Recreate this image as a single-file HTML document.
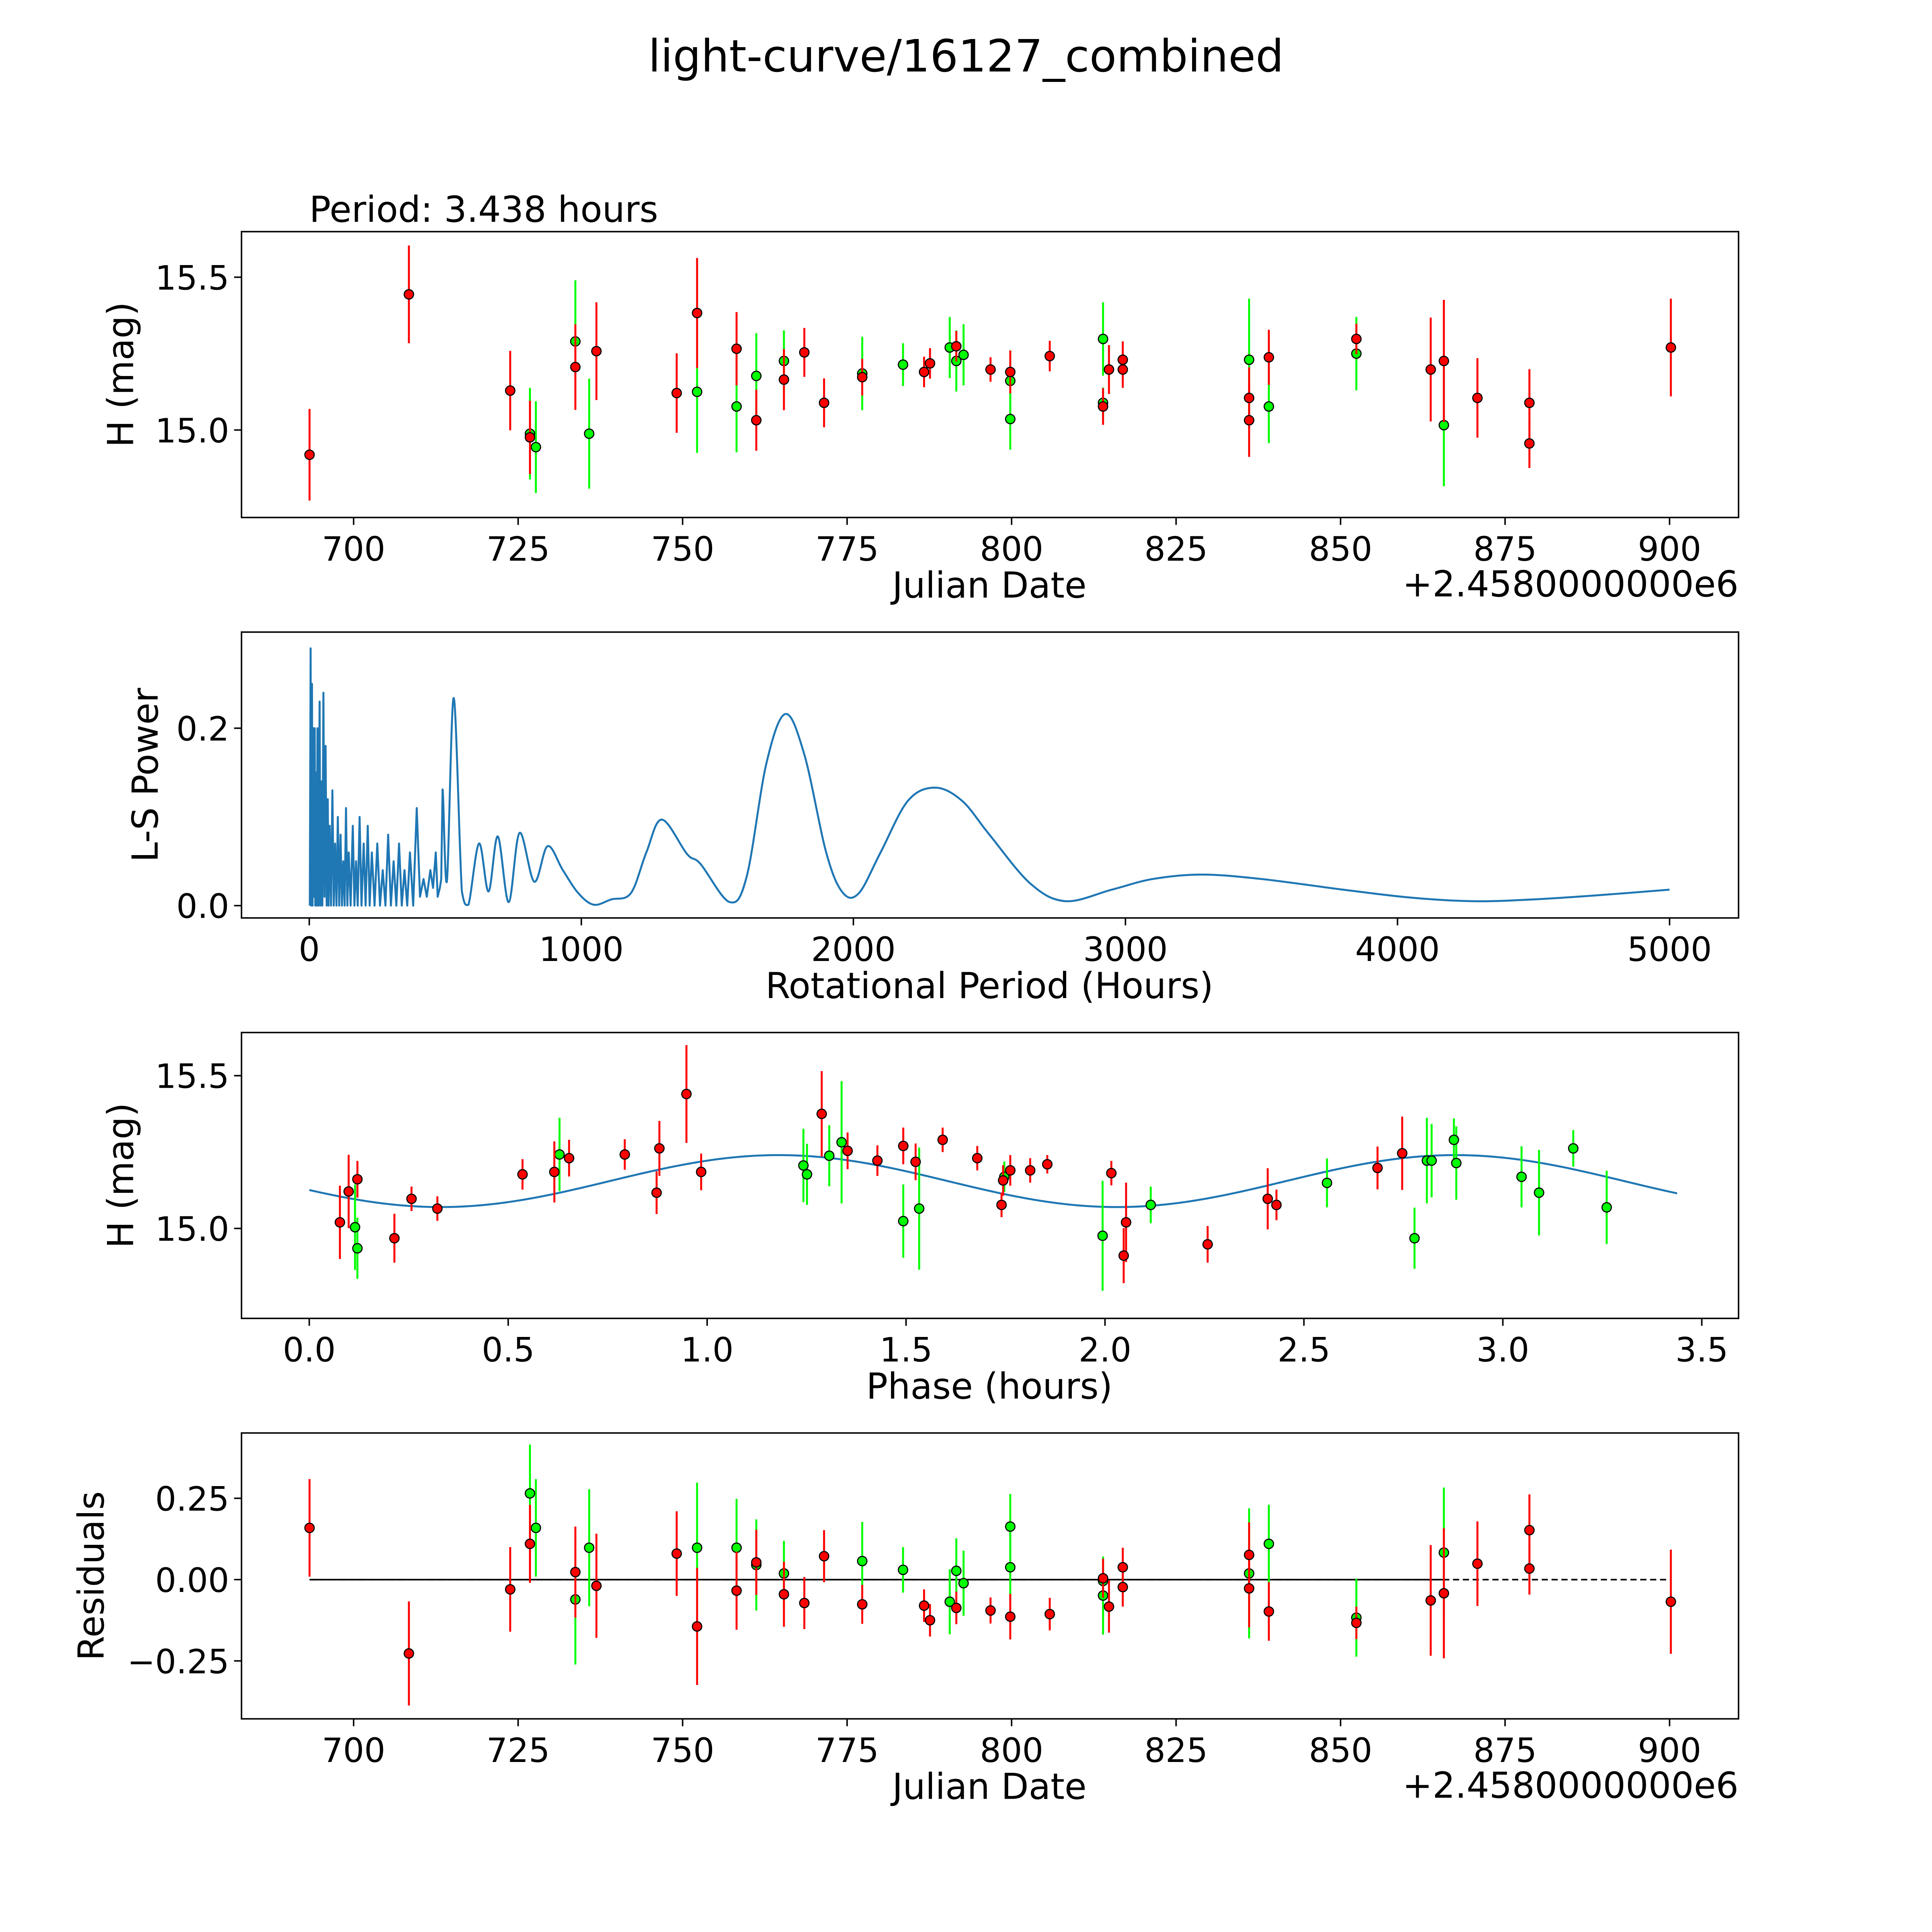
<!DOCTYPE html>
<html><head><meta charset="utf-8"><style>
html,body{margin:0;padding:0;background:#fff;overflow:hidden;width:100vw;height:100vh}
svg{display:block;width:100vw;height:100vh}
text{font-family:"DejaVu Sans","Liberation Sans",sans-serif;fill:#000}
</style></head><body>
<svg id="fig" viewBox="0 0 1568 1568" preserveAspectRatio="none" xmlns="http://www.w3.org/2000/svg">
<rect width="1568" height="1568" fill="#fff"/>
<text x="784" y="58" font-size="36" text-anchor="middle">light-curve/16127_combined</text>
<text x="251" y="180" font-size="29">Period: 3.438 hours</text>
<g id="g1"></g>
<g id="g2"></g>
<g id="g3"></g>
<g id="g4"></g>
</svg>
<script>
// ---- Panel 1 / 4 data (same order) ----
const redDates=[693.3,708.4,723.8,726.8,733.7,736.9,749.1,752.2,758.2,761.2,765.4,768.5,771.5,777.3,786.7,787.6,791.6,796.8,799.8,805.8,813.9,814.8,816.9,816.9,836.1,836.1,839.1,852.4,863.7,865.7,870.8,878.7,878.7,900.2];
const redMags=[14.919,15.444,15.129,14.976,15.206,15.258,15.121,15.383,15.266,15.032,15.165,15.254,15.089,15.173,15.190,15.218,15.274,15.198,15.190,15.242,15.077,15.198,15.230,15.198,15.105,15.032,15.238,15.298,15.198,15.226,15.105,15.089,14.956,15.270];
const redErrs=[0.15,0.16,0.13,0.12,0.14,0.16,0.13,0.18,0.12,0.1,0.1,0.08,0.08,0.06,0.05,0.05,0.05,0.04,0.07,0.05,0.06,0.08,0.06,0.06,0.10,0.12,0.09,0.05,0.17,0.2,0.13,0.11,0.08,0.16];
const redResid=[0.159,-0.227,-0.030,0.110,0.023,-0.019,0.080,-0.144,-0.034,0.053,-0.045,-0.072,0.072,-0.076,-0.080,-0.125,-0.087,-0.095,-0.114,-0.106,0.004,-0.083,0.038,-0.023,0.076,-0.027,-0.098,-0.133,-0.064,-0.042,0.049,0.152,0.034,-0.068];
const greenDates=[726.8,727.7,733.7,735.8,752.2,758.2,761.2,765.4,777.3,783.5,790.6,791.6,792.7,799.8,799.8,813.9,813.9,836.1,839.1,852.4,865.7];
const greenMags=[14.988,14.944,15.290,14.988,15.125,15.077,15.177,15.226,15.185,15.214,15.270,15.226,15.246,15.161,15.036,15.298,15.089,15.230,15.077,15.250,15.016];
const greenErrs=[0.15,0.15,0.2,0.18,0.2,0.15,0.14,0.1,0.12,0.07,0.1,0.1,0.1,0.1,0.1,0.12,0.05,0.2,0.12,0.12,0.2];
const greenResid=[0.265,0.159,-0.061,0.098,0.098,0.098,0.045,0.019,0.057,0.030,-0.068,0.027,-0.011,0.163,0.038,-0.049,-0.004,0.019,0.110,-0.117,0.083];
// ---- Panel 3 data ----
const redPhase=[0.077,0.099,0.121,0.214,0.257,0.322,0.536,0.616,0.653,0.793,0.873,0.880,0.948,0.985,1.288,1.353,1.428,1.493,1.524,1.592,1.679,1.740,1.744,1.762,1.812,1.855,2.016,2.047,2.053,2.258,2.409,2.431,2.685,2.747];
const redPhaseMag=[15.020,15.121,15.161,14.968,15.097,15.065,15.177,15.185,15.230,15.242,15.117,15.262,15.440,15.185,15.375,15.254,15.222,15.270,15.218,15.290,15.230,15.077,15.157,15.190,15.190,15.210,15.181,14.911,15.020,14.948,15.097,15.077,15.198,15.246];
const redPhaseErr=[0.12,0.12,0.06,0.08,0.04,0.04,0.05,0.1,0.06,0.05,0.07,0.09,0.16,0.06,0.14,0.06,0.05,0.06,0.06,0.04,0.04,0.04,0.05,0.05,0.04,0.03,0.04,0.09,0.13,0.06,0.1,0.05,0.07,0.12];
const greenPhase=[0.115,0.121,0.629,1.242,1.251,1.307,1.338,1.493,1.533,1.747,1.994,2.115,2.558,2.778,2.809,2.821,2.877,2.883,3.047,3.091,3.177,3.261];
const greenPhaseMag=[15.004,14.935,15.242,15.206,15.177,15.238,15.282,15.024,15.065,15.169,14.976,15.077,15.149,14.968,15.222,15.222,15.290,15.214,15.169,15.117,15.262,15.069];
const greenPhaseErr=[0.14,0.1,0.12,0.12,0.1,0.1,0.2,0.12,0.2,0.05,0.18,0.06,0.08,0.1,0.14,0.12,0.07,0.12,0.1,0.14,0.06,0.12];
const fitMean=[15.155], fitAmp=[0.085], fitPhase0=[0.33], fitHalfPeriod=[1.7];
// ---- Panel 2 data ----
const lsPeriods=[2,5,7,10,12,15,17,20,22,25,28,30,34,38,41,45,48,52,56,60,64,68,71,75,80,85,90,95,100,105,110,115,120,125,130,135,140,145,152,160,166,172,178,185,192,200,207,215,222,230,240,250,260,270,280,290,300,310,320,330,340,350,360,370,382,395,407,420,432,445,455,465,472,480,485,490,506,531,561,585,624,659,693,733,773,827,876,932,989,1046,1110,1182,1239,1296,1389,1438,1545,1608,1680,1750,1820,1900,1960,2020,2100,2200,2300,2400,2500,2650,2780,2950,3100,3280,3500,3800,4050,4280,4500,4750,5000];
const lsPower=[0,0.29,0,0.25,0,0.20,0.01,0.20,0,0.15,0,0.20,0,0.23,0,0.14,0,0.24,0.01,0.18,0,0.12,0,0.09,0,0.13,0,0.07,0,0.10,0,0.08,0,0.05,0,0.11,0,0.06,0,0.09,0,0.05,0,0.10,0,0.07,0,0.09,0,0.06,0,0.07,0,0.04,0,0.08,0,0.05,0,0.07,0,0.04,0,0.06,0,0.11,0.01,0.03,0.01,0.04,0.02,0.06,0.01,0.02,0.03,0.131,0.028,0.234,0.016,0.001,0.070,0.016,0.078,0.004,0.082,0.027,0.067,0.040,0.014,0.001,0.007,0.014,0.060,0.097,0.058,0.047,0.004,0.033,0.16,0.216,0.17,0.06,0.015,0.014,0.06,0.118,0.133,0.118,0.08,0.025,0.005,0.018,0.03,0.035,0.03,0.018,0.009,0.005,0.007,0.012,0.018];
const dateTicks=[700,725,750,775,800,825,850,875,900];
const magTicks=[15.0,15.5];
const lsXTicks=[0,1000,2000,3000,4000,5000];
const lsYTicks=[0.0,0.2];
const phaseTicks=[0.0,0.5,1.0,1.5,2.0,2.5,3.0,3.5];
const residTicks=[-0.25,0.00,0.25];

const NS="http://www.w3.org/2000/svg";
function mk(parent,tag,attrs){const e=document.createElementNS(NS,tag);for(const k in attrs)e.setAttribute(k,attrs[k]);parent.appendChild(e);return e;}
const L=196,R=1411;
const TICK=27, LAB=29;
// axis functions
const xDate=d=>287+(d-700)*5.34;
const yMag1=m=>349-(m-15)*248;
const xLS=p=>251+p*0.2208;
const yLS=v=>735-v*720;
const xPh=p=>251+p*322.9;
const yMag3=m=>997-(m-15)*248;
const yRes=r=>1282-r*264;

function frame(g,t,b){
  const f=mk(g,'rect',{x:L,y:t,width:R-L,height:b-t,fill:'none',stroke:'#000','stroke-width':1.2});
  
  
}
function xticks(g,b,ticks,fx,fmt){
  ticks.forEach(v=>{const x=fx(v);
    const l=mk(g,'line',{x1:x,x2:x,y1:b,y2:b+6,stroke:'#000','stroke-width':1.2});
    
    
    const t=mk(g,'text',{x:x,y:b+35,'font-size':TICK,'text-anchor':'middle'});t.textContent=fmt(v);
    
    });
}
function yticks(g,ticks,fy,fmt){
  ticks.forEach(v=>{const y=fy(v);
    const l=mk(g,'line',{x1:L-6,x2:L,y1:y,y2:y,stroke:'#000','stroke-width':1.2});
    
    
    const t=mk(g,'text',{x:L-10,y:y+10,'font-size':TICK,'text-anchor':'end'});t.textContent=fmt(v);
    
    });
}
function label(g,x,y,txt,rot,name){
  const t=mk(g,'text',{x:x,y:y,'font-size':LAB,'text-anchor':'middle'});
  if(rot)t.setAttribute('transform','rotate(-90 '+x+' '+y+')');
  t.textContent=txt;
  
  
}
function points(g,xs,ys,es,fx,fy,color,ysc){
  xs.forEach((d,i)=>{const x=fx(d),y=fy(ys[i]),e=es[i]*ysc;
    const l=mk(g,'line',{x1:x,x2:x,y1:y-e,y2:y+e,stroke:color,'stroke-width':1.6});
    
    
  });
  xs.forEach((d,i)=>{
    const c=mk(g,'circle',{cx:fx(d),cy:fy(ys[i]),r:3.8,fill:color,stroke:'#000','stroke-width':0.9});
    
    
  });
}
const fmt1=v=>v.toFixed(1), fmt0=v=>String(v), fmt2=v=>(v<0?'\u2212':'')+Math.abs(v).toFixed(2);
const RED='#ff0000', GRN='#00ff00';
// Panel 1
{const g=document.getElementById('g1');
 points(g,greenDates,greenMags,greenErrs,xDate,yMag1,GRN,248);
 points(g,redDates,redMags,redErrs,xDate,yMag1,RED,248);
 frame(g,188,420);xticks(g,420,dateTicks,xDate,fmt0);yticks(g,magTicks,yMag1,fmt1);
 label(g,803,485,'Julian Date',false,'x-axis-title');label(g,108,304,'H (mag)',true,'y-axis-title');
 const o=mk(g,'text',{x:1411,y:484,'font-size':LAB,'text-anchor':'end'});o.textContent='+2.4580000000e6';
 
 }
// Panel 2
{const g=document.getElementById('g2');
 const base=yLS(0);
 const pts=lsPeriods.map((p,i)=>[xLS(p),yLS(lsPower[i])]);
 let d='M'+pts[0][0]+' '+pts[0][1];
 const split=lsPeriods.indexOf(490);
 const cl=v=>Math.min(v,base);
 for(let i=1;i<pts.length;i++){
   if(i<=split){d+=' L'+pts[i][0].toFixed(2)+' '+pts[i][1].toFixed(2);}
   else{const p0=pts[i-2]||pts[i-1],p1=pts[i-1],p2=pts[i],p3=pts[i+1]||pts[i];
     const c1x=p1[0]+(p2[0]-p0[0])/6,c1y=cl(p1[1]+(p2[1]-p0[1])/6),c2x=p2[0]-(p3[0]-p1[0])/6,c2y=cl(p2[1]-(p3[1]-p1[1])/6);
     d+=' C'+c1x.toFixed(2)+' '+c1y.toFixed(2)+' '+c2x.toFixed(2)+' '+c2y.toFixed(2)+' '+p2[0].toFixed(2)+' '+p2[1].toFixed(2);}
 }
 const pa=mk(g,'path',{d:d,fill:'none',stroke:'#1f77b4','stroke-width':1.6,'stroke-linejoin':'round'});
 
 
 frame(g,513,745);xticks(g,745,lsXTicks,xLS,fmt0);yticks(g,lsYTicks,yLS,fmt1);
 label(g,803,810,'Rotational Period (Hours)',false,'x-axis-title');label(g,128,629,'L-S Power',true,'y-axis-title');}
// Panel 3
{const g=document.getElementById('g3');
 let d='';
 for(let i=0;i<=300;i++){const p=3.438*i/300;const m=fitMean[0]-fitAmp[0]*Math.cos(2*Math.PI*(p-fitPhase0[0])/fitHalfPeriod[0]);
   d+=(i?' L':'M')+xPh(p).toFixed(2)+' '+yMag3(m).toFixed(2);}
 const c=mk(g,'path',{d:d,fill:'none',stroke:'#1f77b4','stroke-width':1.6});
 
 
 points(g,greenPhase,greenPhaseMag,greenPhaseErr,xPh,yMag3,GRN,248);
 points(g,redPhase,redPhaseMag,redPhaseErr,xPh,yMag3,RED,248);
 frame(g,838,1070);xticks(g,1070,phaseTicks,xPh,fmt1);yticks(g,magTicks,yMag3,fmt1);
 label(g,803,1135,'Phase (hours)',false,'x-axis-title');label(g,108,954,'H (mag)',true,'y-axis-title');}
// Panel 4
{const g=document.getElementById('g4');
 const z1=mk(g,'line',{x1:xDate(693.3),x2:xDate(900.2),y1:yRes(0),y2:yRes(0),stroke:'#000','stroke-width':1.3,'stroke-dasharray':'5,3'});
 
 
 const z2=mk(g,'line',{x1:xDate(693.3),x2:xDate(865.7),y1:yRes(0),y2:yRes(0),stroke:'#000','stroke-width':1.3});
 
 
 points(g,greenDates,greenResid,greenErrs,xDate,yRes,GRN,264);
 points(g,redDates,redResid,redErrs,xDate,yRes,RED,264);
 frame(g,1163,1395);xticks(g,1395,dateTicks,xDate,fmt0);yticks(g,residTicks,yRes,fmt2);
 label(g,803,1460,'Julian Date',false,'x-axis-title');label(g,84,1279,'Residuals',true,'y-axis-title');
 const o=mk(g,'text',{x:1411,y:1459,'font-size':LAB,'text-anchor':'end'});o.textContent='+2.4580000000e6';
 
 }
</script>
</body></html>
